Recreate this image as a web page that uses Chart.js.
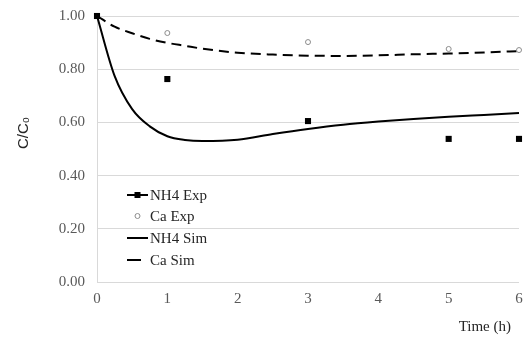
<!DOCTYPE html>
<html>
<head>
<meta charset="utf-8">
<script src="https://cdn.jsdelivr.net/npm/chart.js@4.4.1/dist/chart.umd.min.js"></script>
<style>
  html, body { margin: 0; padding: 0; background: #fff; }
  #wrap { position: relative; width: 524px; height: 341px; }
</style>
</head>
<body>
<div id="wrap"><canvas id="chart" width="524" height="341"></canvas></div>
<script>
/*globals Chart*/
'use strict';

// measured points
var expTimes = [0, 1, 3, 5, 6];
var nh4Exp = [1.00, 0.763, 0.605, 0.538, 0.538];
var caExp = [1.00, 0.936, 0.902, 0.876, 0.872];

// simulated curves
var simTimes = [0, 0.25, 0.5, 0.75, 1, 1.25, 1.5, 2, 2.5, 3, 3.5, 4, 4.5, 5, 5.5, 6];
var nh4Sim = [1.00, 0.775, 0.65, 0.585, 0.548, 0.534, 0.530, 0.535, 0.556, 0.575, 0.591, 0.603, 0.613, 0.621, 0.628, 0.635];
var caSim = [1.00, 0.960, 0.935, 0.914, 0.899, 0.888, 0.877, 0.862, 0.855, 0.851, 0.850, 0.852, 0.856, 0.859, 0.863, 0.868];

var xTicks = [0, 1, 2, 3, 4, 5, 6];
var yTicks = [0, 0.2, 0.4, 0.6, 0.8, 1.0];

var seriesNames = ['NH4 Exp', 'Ca Exp', 'NH4 Sim', 'Ca Sim'];

var SERIF = '"Liberation Serif", "Times New Roman", serif';
var DASH = [10, 6];

function toPoints(xs, ys) {
  return xs.map(function (x, i) { return {x: x, y: ys[i]}; });
}

var axisTitles = {
  id: 'axisTitles',
  afterDraw: function (chart) {
    var ctx = chart.ctx, area = chart.chartArea;
    ctx.save();
    // y title C/C0 (rotated)
    ctx.translate(24, 133);
    ctx.rotate(-Math.PI / 2);
    ctx.fillStyle = '#262626';
    ctx.textBaseline = 'middle';
    ctx.textAlign = 'center';
    ctx.font = '15px "Liberation Sans", Arial, sans-serif';
    ctx.fillText('C/C\u2080', 0, 0);
    ctx.restore();

    ctx.save();
    ctx.fillStyle = '#262626';
    ctx.font = '15px ' + SERIF;
    ctx.textAlign = 'right';
    ctx.textBaseline = 'middle';
    ctx.fillText('Time (h)', area.right - 8, 327);
    ctx.restore();
  }
};

var legendBox = {
  id: 'legendBox',
  afterDraw: function (chart) {
    var ctx = chart.ctx, area = chart.chartArea;
    var x0 = area.left + 30, x1 = area.left + 51, tx = area.left + 53;
    var rows = [area.top + 179, area.top + 200, area.top + 222, area.top + 244];
    ctx.save();
    ctx.font = '15px ' + SERIF;
    ctx.fillStyle = '#262626';
    ctx.textBaseline = 'middle';
    ctx.textAlign = 'left';
    rows.forEach(function (y, i) {
      ctx.fillText(seriesNames[i], tx, y + 1);
    });

    ctx.strokeStyle = '#000';
    ctx.lineWidth = 2;
    // NH4 Exp: line with square
    ctx.beginPath();
    ctx.moveTo(x0, rows[0]);
    ctx.lineTo(x1, rows[0]);
    ctx.stroke();
    ctx.fillStyle = '#000';
    ctx.fillRect((x0 + x1) / 2 - 3, rows[0] - 3, 6, 6);
    // Ca Exp: open circle
    ctx.lineWidth = 1;
    ctx.strokeStyle = '#8c8c8c';
    ctx.beginPath();
    ctx.arc((x0 + x1) / 2, rows[1], 2.5, 0, Math.PI * 2);
    ctx.stroke();
    // NH4 Sim: solid
    ctx.lineWidth = 2;
    ctx.strokeStyle = '#000';
    ctx.beginPath();
    ctx.moveTo(x0, rows[2]);
    ctx.lineTo(x1, rows[2]);
    ctx.stroke();
    // Ca Sim: dash
    ctx.beginPath();
    ctx.moveTo(x0, rows[3]);
    ctx.lineTo(x0 + 14, rows[3]);
    ctx.stroke();
    ctx.restore();
  }
};

// chart.js paints datasets last-to-first, so the squares go first to sit on top
new Chart(document.getElementById('chart'), {
  type: 'scatter',
  data: {
    datasets: [
      {
        label: seriesNames[0],
        data: toPoints(expTimes, nh4Exp),
        pointStyle: 'rect',
        pointRadius: 4.3,
        pointBorderWidth: 0,
        pointBackgroundColor: '#000',
        pointBorderColor: '#000'
      },
      {
        label: seriesNames[1],
        data: toPoints(expTimes, caExp),
        pointStyle: 'circle',
        pointRadius: 2.5,
        pointBorderWidth: 1,
        pointBorderColor: '#8c8c8c',
        pointBackgroundColor: '#fff'
      },
      {
        label: seriesNames[2],
        data: toPoints(simTimes, nh4Sim),
        showLine: true,
        borderColor: '#000',
        borderWidth: 2,
        pointRadius: 0,
        cubicInterpolationMode: 'monotone'
      },
      {
        label: seriesNames[3],
        data: toPoints(simTimes, caSim),
        showLine: true,
        borderColor: '#000',
        borderWidth: 2,
        borderDash: DASH,
        pointRadius: 0,
        cubicInterpolationMode: 'monotone'
      }
    ]
  },
  options: {
    responsive: false,
    animation: false,
    clip: false,
    layout: {padding: {top: 16, right: 5, left: 0, bottom: 0}},
    plugins: {
      legend: {display: false},
      tooltip: {enabled: false}
    },
    scales: {
      x: {
        type: 'linear',
        min: 0,
        max: 6,
        afterBuildTicks: function (scale) {
          scale.ticks = xTicks.map(function (v) { return {value: v}; });
        },
        afterFit: function (scale) {
          scale.height = 59;
          scale.paddingLeft = 0;
          scale.paddingRight = 0;
        },
        grid: {display: false, drawTicks: false},
        border: {display: false},
        ticks: {
          padding: 8,
          color: '#595959',
          font: {family: SERIF, size: 15}
        }
      },
      y: {
        min: 0,
        max: 1,
        afterBuildTicks: function (scale) {
          scale.ticks = yTicks.map(function (v) { return {value: v}; });
        },
        afterFit: function (scale) {
          scale.width = 97;
          scale.paddingTop = 0;
          scale.paddingBottom = 0;
        },
        grid: {color: '#d9d9d9', lineWidth: 1, drawTicks: false},
        border: {display: true, color: '#d9d9d9', width: 1},
        ticks: {
          padding: 12,
          color: '#595959',
          font: {family: SERIF, size: 15},
          callback: function (v) { return v.toFixed(2); }
        }
      }
    }
  },
  plugins: [axisTitles, legendBox]
});
</script>
</body>
</html>
